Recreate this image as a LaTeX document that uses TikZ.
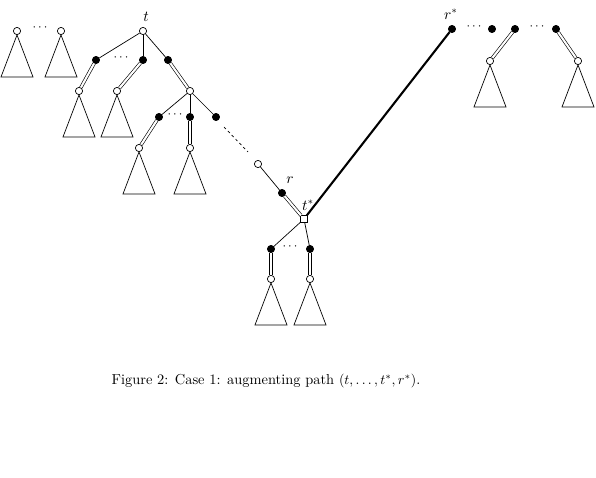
\documentclass[tikz,border=0pt]{standalone}
\begin{document}
\begin{tikzpicture}[x=0.72pt,y=-0.72pt,
  wn/.style={circle,draw,fill=white,inner sep=0pt,minimum size=5.2pt,line width=0.5pt},
  bn/.style={circle,draw,fill=black,inner sep=0pt,minimum size=5.2pt,line width=0.5pt},
  sq/.style={rectangle,draw,fill=white,inner sep=0pt,minimum size=4.6pt,line width=0.5pt},
  dotsnode/.style={inner sep=0pt,font=\small},
  lab/.style={inner sep=1pt,font=\fontsize{10.5}{12}\selectfont},
  ed/.style={line width=0.5pt},
  matched/.style={line width=0.45pt,double,double distance=1.5pt},
  aug/.style={line width=1.5pt},
  tri/.style={line width=0.5pt}]
\useasboundingbox (0,0) rectangle (596,478);
\newcommand\mytri[1]{\draw[tri] (#1.south) -- ++(-16,42) -- ++(32,0) -- cycle;}
% left forest
\node[wn] (l1) at (17,31) {};
\node[wn] (l2) at (61,31) {};
\node[dotsnode] (ld) at (40,28) {$\cdots$};
\mytri{l1}\mytri{l2}
% tree rooted at t
\node[wn] (t) at (143,31) {};
\node[lab] (tl) at (146,17) {$t$};
\node[bn] (a1) at (96,60) {};
\node[bn] (a2) at (143,60) {};
\node[bn] (a3) at (168,60) {};
\node[dotsnode] (ad) at (121,58) {$\cdots$};
\draw[ed] (t) -- (a1); \draw[ed] (t) -- (a2); \draw[ed] (t) -- (a3);
\node[wn] (b1) at (79,91) {};
\node[wn] (b2) at (117,91) {};
\node[wn] (b3) at (190,91) {};
\draw[matched] (a1) -- (b1); \draw[matched] (a2) -- (b2); \draw[matched] (a3) -- (b3);
\mytri{b1}\mytri{b2}
\node[bn] (c1) at (159,117) {};
\node[bn] (c2) at (190,117) {};
\node[bn] (c3) at (216,117) {};
\node[dotsnode] (cd) at (175,115) {$\cdots$};
\draw[ed] (b3) -- (c1); \draw[ed] (b3) -- (c2); \draw[ed] (b3) -- (c3);
\node[wn] (d1) at (139,148) {};
\node[wn] (d2) at (190,148) {};
\draw[matched] (c1) -- (d1); \draw[matched] (c2) -- (d2);
\mytri{d1}\mytri{d2}
\coordinate (p1) at (224,127);
\coordinate (p2) at (248,152);
\draw[ed,dashed,dash pattern=on 2pt off 2pt] (p1) -- (p2);
\node[wn] (e) at (258,164) {};
\node[bn] (r) at (282,193) {};
\node[lab] (rl) at (290,180) {$r$};
\node[sq] (ts) at (304,219) {};
\node[lab] (tsl) at (308,205) {$t^*$};
\draw[ed] (e) -- (r);
\draw[matched] (r) -- (ts);
\node[bn] (f1) at (271,249) {};
\node[bn] (f2) at (310,249) {};
\node[dotsnode] (fd) at (290,247) {$\cdots$};
\draw[ed] (ts) -- (f1); \draw[ed] (ts) -- (f2);
\node[wn] (g1) at (271,279) {};
\node[wn] (g2) at (310,279) {};
\draw[matched] (f1) -- (g1); \draw[matched] (f2) -- (g2);
\mytri{g1}\mytri{g2}
% right forest
\node[bn] (rs) at (452,29) {};
\node[lab] (rsl) at (451,14) {$r^*$};
\draw[aug] (ts) -- (rs);
\node[dotsnode] (hd1) at (474,27) {$\cdots$};
\node[bn] (h1) at (492,29) {};
\node[bn] (h2) at (515,29) {};
\node[dotsnode] (hd2) at (537,27) {$\cdots$};
\node[bn] (h3) at (556,29) {};
\node[wn] (k1) at (490,61) {};
\node[wn] (k2) at (578,61) {};
\draw[matched] (h2) -- (k1); \draw[matched] (h3) -- (k2);
\mytri{k1}\mytri{k2}
% caption
\node[inner sep=0pt,font=\fontsize{10.4}{12.5}\selectfont] (cap) at (266,381) {Figure 2: Case 1: augmenting path $(t,\ldots,t^*,r^*)$.};
\end{tikzpicture}
\end{document}
